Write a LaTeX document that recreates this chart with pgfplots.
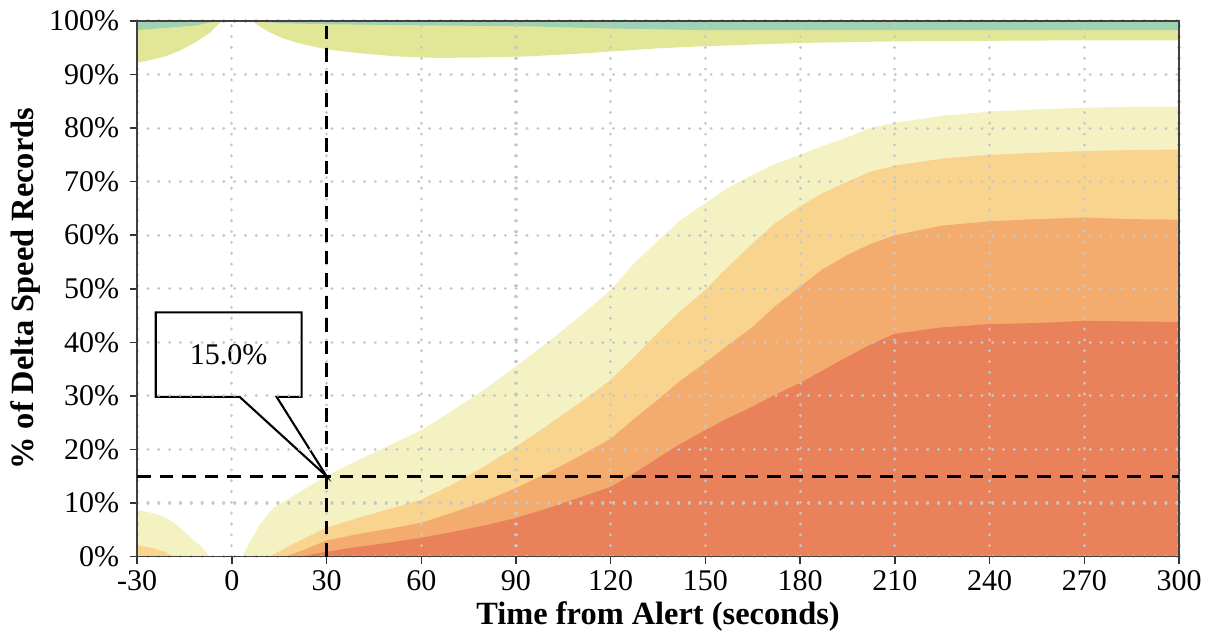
\documentclass[border=0pt]{standalone}
\usepackage{pgfplots}
\pgfplotsset{compat=1.18}
\usepackage{fontspec}
\setmainfont{Liberation Serif}
\definecolor{cR}{HTML}{E9825B}
\definecolor{cO}{HTML}{F3AC6D}
\definecolor{cLO}{HTML}{F9D48E}
\definecolor{cPY}{HTML}{F4F1C2}
\definecolor{cYG}{HTML}{E2E797}
\definecolor{cT}{HTML}{9FD1B3}
\begin{document}
\begin{tikzpicture}
\begin{axis}[
  set layers=axis on top,
  scale only axis, width=347.3pt, height=178.5pt,
  xmin=-30, xmax=300, ymin=0, ymax=100,
  axis on top,
  xtick={-30,0,30,60,90,120,150,180,210,240,270,300},
  xticklabels={-30,0,30,60,90,120,150,180,210,240,270,300},
  ytick={0,10,...,100},
  yticklabels={0\%,10\%,20\%,30\%,40\%,50\%,60\%,70\%,80\%,90\%,100\%},
  xtick pos=bottom, ytick pos=left, tick align=outside,
  major tick length=2.5pt,
  tick style={black!80, line width=0.5pt},
  axis line style={black!75, line width=0.5pt},
  tick label style={font=\fontsize{10}{12}\selectfont},
  xticklabel style={yshift=1.2pt},
  grid=major,
  major grid style={white!78!black, line width=1.05pt, dash pattern=on 0.01pt off 3.6pt, line cap=round},
  xlabel={Time from Alert (seconds)},
  ylabel={\% of Delta Speed Records},
  label style={font=\fontsize{10.8}{13}\selectfont\bfseries},
  xlabel style={at={(axis description cs:0.5,-0.112)}, anchor=center},
  ylabel style={at={(axis description cs:-0.1075,0.5)}, anchor=center},
]
% pale yellow (cumulative top of bottom stack)
\addplot[draw=none, fill=cPY] coordinates {
 (-30,8.7) (-25,8.1) (-21.7,7.4) (-18,6.2) (-14.4,4.3) (-12,3.0) (-9.6,1.8) (-7,0) (3.3,0)
 (6,3) (9,6) (13,9) (20,11.5) (30,15.1) (40,18) (50,20.8) (60,23.6) (70,27.3) (80,31.2)
 (90,35.5) (100,40) (110,44.7) (120,49.8) (127,54.5) (135,59) (142,62.8) (150,66)
 (157,68.8) (165,71.3) (172,73.3) (180,75) (187,76.6) (195,78.3) (202,80) (210,81)
 (225,82.3) (240,83.1) (255,83.5) (270,83.8) (285,84) (300,84)} \closedcycle;
% light orange
\addplot[draw=none, fill=cLO] coordinates {
 (-30,2.1) (-25,1.6) (-21,0.8) (-18.6,0) (12,0)
 (20,2.5) (30,5.4) (40,7.2) (50,8.9) (60,10.6) (70,13.5) (80,16.8) (90,20.5)
 (100,24.5) (110,28.6) (120,33) (127,37) (135,41.8) (142,45.8) (150,49.8) (157,54)
 (165,58.5) (172,62.2) (180,65.4) (187,67.8) (195,70) (202,71.8) (210,73) (225,74.3)
 (240,75) (255,75.4) (270,75.7) (285,75.9) (300,76)} \closedcycle;
% orange
\addplot[draw=none, fill=cO] coordinates {
 (-30,0) (17,0) (23,1.3) (30,3) (40,4.2) (50,5.2) (60,6.3) (70,8.2) (80,10.3) (90,12.8)
 (100,15.6) (110,18.7) (120,22) (127,25.5) (135,29.3) (142,32.8) (150,36.2) (157,39.4)
 (165,42.9) (172,46.7) (180,50.4) (187,53.6) (195,56.3) (202,58.3) (210,60) (225,61.8)
 (240,62.6) (255,63) (270,63.3) (285,63) (300,62.9)} \closedcycle;
% red
\addplot[draw=none, fill=cR] coordinates {
 (-30,0) (22,0) (30,0.9) (40,1.8) (50,2.6) (60,3.5) (70,4.6) (80,5.8) (90,7.2) (100,9)
 (110,11) (120,13) (127,15.4) (135,18.4) (142,21) (150,23.6) (157,25.8) (165,28)
 (172,30.2) (180,32.4) (187,34.7) (195,37.3) (202,39.5) (210,41.6) (225,42.8)
 (240,43.4) (255,43.6) (270,44) (285,43.9) (300,43.8)} \closedcycle;
% yellow-green (top stack)
\addplot[draw=none, fill=cYG] coordinates {
 (-30,92.2) (-25,92.8) (-21,93.4) (-16,94.6) (-11,96.2) (-7,97.8) (-4.6,99.2) (-3,100)
 (6.5,100) (9,98.9) (12.3,97.8) (16,96.8) (20.8,95.9) (30,94.7) (40,94) (52,93.4)
 (65,93.1) (80,93.2) (94,93.4) (110,93.9) (120,94.3) (135,94.9) (150,95.3) (180,95.9)
 (210,96.2) (240,96.3) (270,96.4) (300,96.4) (300,100) (-30,100)} -- cycle;
% teal
\addplot[draw=none, fill=cT] coordinates {
 (-30,98.3) (-21,98.7) (-11,99.2) (-5,100) (8,100) (15,99.6) (30,99.4) (60,99.2)
 (94,99.0) (120,98.6) (150,98.3) (180,98.3) (240,98.3) (300,98.3) (300,100) (-30,100)} -- cycle;
% reference lines
\addplot[on layer=axis foreground, black, line width=1pt, dash pattern=on 4.5pt off 3pt] coordinates {(-30,15) (300,15)};
\addplot[on layer=axis foreground, black, line width=1pt, dash pattern=on 4.5pt off 3pt] coordinates {(30,0) (30,100)};
\coordinate (b1) at (axis cs:-24.1,45.6);
\coordinate (b2) at (axis cs:22.1,45.6);
\coordinate (b3) at (axis cs:22.1,29.8);
\coordinate (b4) at (axis cs:14.2,29.8);
\coordinate (tip) at (axis cs:30,15);
\coordinate (b5) at (axis cs:2.5,29.8);
\coordinate (b6) at (axis cs:-24.1,29.8);
\coordinate (lab) at (axis cs:-1,37.7);
\end{axis}
\draw[fill=white, line width=0.7pt, line join=miter] (b1) -- (b2) -- (b3) -- (b4) -- (tip) -- (b5) -- (b6) -- cycle;
\node[font=\fontsize{10}{12}\selectfont] at (lab) {15.0\%};
\pgfresetboundingbox
\path ([xshift=-45.7pt,yshift=-26.8pt]current axis.south west) rectangle ([xshift=12pt,yshift=7pt]current axis.north east);
\end{tikzpicture}
\end{document}
